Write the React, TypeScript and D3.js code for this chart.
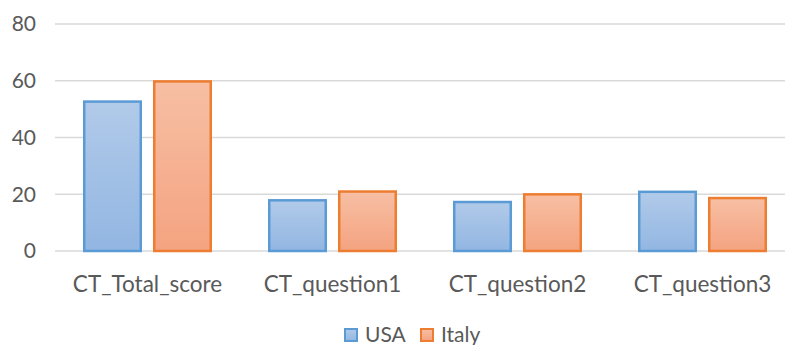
import React from 'react'
import * as d3 from 'd3'

const categories = ['CT_Total_score', 'CT_question1', 'CT_question2', 'CT_question3']
const series = ['USA', 'Italy']
const usaValues = [53.1, 18.3, 17.7, 21.3]
const italyValues = [60.2, 21.4, 20.4, 19.1]
const yTicks = [0, 20, 40, 60, 80]

const W = 785
const H = 345
const plot = { left: 55, right: 795, top: 24, bottom: 251 }

const colors: Record<string, { stroke: string; top: string; bottom: string }> = {
    USA: { stroke: '#5b9bd5', top: '#b1cae9', bottom: '#92b6e2' },
    Italy: { stroke: '#ed7d31', top: '#f7bfa4', bottom: '#f4a380' }
}

const font = 'Lato, "Open Sans", sans-serif'

const App: React.FC = () => {
    const x0 = d3.scaleBand().domain(categories).range([plot.left, plot.right])
    const groupW = 129
    const x1 = d3
        .scaleBand()
        .domain(series)
        .range([(x0.bandwidth() - groupW) / 2, (x0.bandwidth() + groupW) / 2])
        .paddingInner(0.157)
    const y = d3.scaleLinear().domain([0, 80]).range([plot.bottom, plot.top])
    const values: Record<string, number[]> = { USA: usaValues, Italy: italyValues }
    const sw = 2.5

    return (
        <div style={{ position: 'fixed', left: 0, top: 0 }}>
            <svg width={W} height={H} style={{ display: 'block', background: '#fff' }}>
                <defs>
                    {series.map((s) => (
                        <linearGradient key={s} id={`grad-${s}`} x1='0' y1='0' x2='0' y2='1'>
                            <stop offset='0%' stopColor={colors[s].top} />
                            <stop offset='100%' stopColor={colors[s].bottom} />
                        </linearGradient>
                    ))}
                </defs>
                <g className='grid'>
                    {yTicks.map((t) => (
                        <line
                            key={t}
                            x1={plot.left}
                            x2={W}
                            y1={y(t)}
                            y2={y(t)}
                            stroke='#d9d9d9'
                            strokeWidth={1.3}
                        />
                    ))}
                </g>
                <g className='yaxis'>
                    {yTicks.map((t) => (
                        <text
                            key={t}
                            x={36}
                            y={y(t)}
                            dy='0.35em'
                            textAnchor='end'
                            fontFamily={font}
                            fontSize={21}
                            fill='#595959'
                        >
                            {t}
                        </text>
                    ))}
                </g>
                <g className='bars'>
                    {categories.map((c, i) => (
                        <g key={c} transform={`translate(${x0(c)},0)`}>
                            {series.map((s) => {
                                const v = values[s][i]
                                return (
                                    <rect
                                        key={s}
                                        x={(x1(s) as number) + sw / 2}
                                        y={y(v) + sw / 2}
                                        width={x1.bandwidth() - sw}
                                        height={y(0) - y(v) - sw / 2}
                                        fill={`url(#grad-${s})`}
                                        stroke={colors[s].stroke}
                                        strokeWidth={sw}
                                    />
                                )
                            })}
                        </g>
                    ))}
                </g>
                <g className='xaxis'>
                    {categories.map((c) => (
                        <text
                            key={c}
                            x={(x0(c) as number) + x0.bandwidth() / 2}
                            y={284}
                            dy='0.35em'
                            textAnchor='middle'
                            fontFamily={font}
                            fontSize={22.5}
                            fill='#595959'
                        >
                            {c}
                        </text>
                    ))}
                </g>
                <g className='legend' transform='translate(344, 335)'>
                    {series.map((s, i) => (
                        <g key={s} transform={`translate(${i * 76},0)`}>
                            <rect
                                x={1}
                                y={-6}
                                width={12}
                                height={12}
                                fill={`url(#grad-${s})`}
                                stroke={colors[s].stroke}
                                strokeWidth={2}
                            />
                            <text
                                x={21}
                                y={0}
                                dy='0.35em'
                                fontFamily={font}
                                fontSize={21}
                                fill='#595959'
                            >
                                {s}
                            </text>
                        </g>
                    ))}
                </g>
            </svg>
        </div>
    )
}

export default App
